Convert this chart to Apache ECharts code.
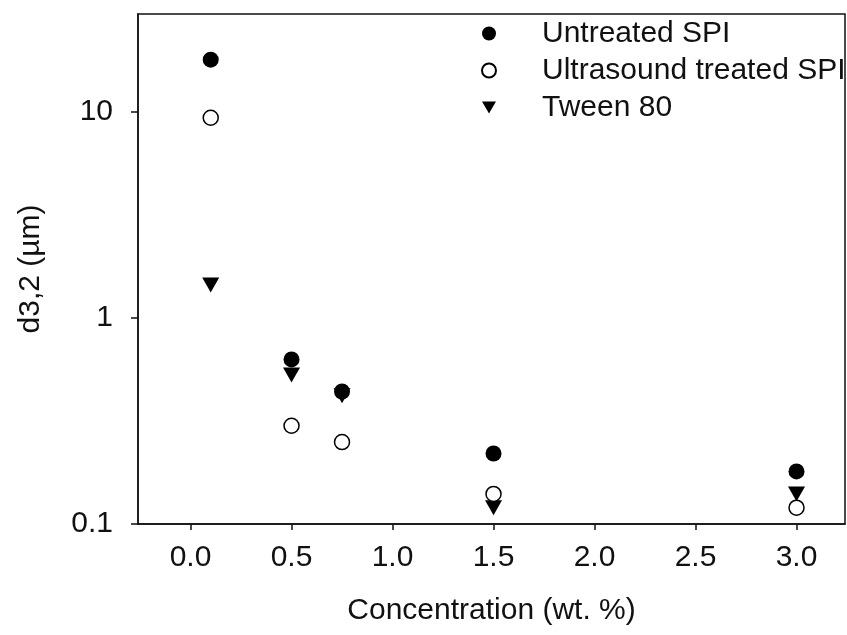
<!DOCTYPE html>
<html>
<head>
<meta charset="utf-8">
<script src="https://cdn.jsdelivr.net/npm/echarts@6/dist/echarts.min.js"></script>
<style>
	html, body { margin: 0; padding: 0; background: #fff; }
	#chart { width: 847px; height: 635px; }
</style>
</head>
<body>
<div id="chart"></div>
<script>
// concentration (wt. %)
const concentrations = [0.1, 0.5, 0.75, 1.5, 3.0];
// d3,2 (um)
const untreatedSPI = [18.0, 0.63, 0.44, 0.22, 0.18];
const ultrasoundSPI = [9.4, 0.30, 0.25, 0.14, 0.12];
const tween80 = [1.45, 0.53, 0.42, 0.12, 0.14];

const xTicks = [0, 0.5, 1.0, 1.5, 2.0, 2.5, 3.0];
const yTicks = [0.1, 1, 10];

const FONT = 'Liberation Sans, Arial, sans-serif';
const FONT_SIZE = 30;

function pairs(ys) {
	return concentrations.map((x, i) => [x, ys[i]]);
}

let sizeChart = null;

function drawSizeChart() {
	const chartDom = document.getElementById('chart');
	if (!sizeChart) {
		sizeChart = echarts.init(chartDom, null, { renderer: 'canvas' });
	}

	const option = {
		animation: false,
		backgroundColor: '#fff',
		grid: {
			left: 138,
			right: 2,
			top: 14,
			bottom: 111,
			show: true,
			borderColor: '#111',
			borderWidth: 1.5
		},
		legend: {
			orient: 'vertical',
			left: 476,
			top: 13,
			itemWidth: 14,
			itemHeight: 14,
			itemGap: 6,
			textStyle: {
				fontFamily: FONT,
				fontSize: FONT_SIZE,
				lineHeight: 31,
				color: '#111',
				padding: [0, 0, 0, 41]
			},
			data: ['Untreated SPI', 'Ultrasound treated SPI', 'Tween 80']
		},
		xAxis: {
			type: 'value',
			min: -0.26,
			max: 3.24,
			name: 'Concentration (wt. %)',
			nameLocation: 'middle',
			nameGap: 72,
			nameTextStyle: { fontFamily: FONT, fontSize: FONT_SIZE, color: '#111' },
			axisLine: { show: true, onZero: false, lineStyle: { color: '#111', width: 1.5 } },
			axisTick: { show: true, length: 6, customValues: xTicks, lineStyle: { color: '#111', width: 1.5 } },
			axisLabel: {
				customValues: xTicks,
				margin: 19,
				fontFamily: FONT,
				fontSize: FONT_SIZE,
				color: '#111',
				formatter: v => v.toFixed(1)
			},
			splitLine: { show: false }
		},
		yAxis: {
			type: 'log',
			logBase: 10,
			min: 0.1,
			max: 30,
			name: 'd3,2 (µm)',
			nameLocation: 'middle',
			nameGap: 92,
			nameTextStyle: { fontFamily: FONT, fontSize: FONT_SIZE, color: '#111' },
			axisLine: { show: true, onZero: false, lineStyle: { color: '#111', width: 1.5 } },
			axisTick: { show: true, length: 7, customValues: yTicks, lineStyle: { color: '#111', width: 1.5 } },
			axisLabel: {
				customValues: yTicks,
				margin: 25,
				fontFamily: FONT,
				fontSize: FONT_SIZE,
				color: '#111',
				formatter: v => String(v)
			},
			minorTick: { show: false },
			splitLine: { show: false }
		},
		series: [
			{
				name: 'Untreated SPI',
				type: 'scatter',
				data: pairs(untreatedSPI),
				symbol: 'circle',
				symbolSize: 16,
				itemStyle: { color: '#000', opacity: 1 },
				z: 3
			},
			{
				name: 'Ultrasound treated SPI',
				type: 'scatter',
				data: pairs(ultrasoundSPI),
				symbol: 'circle',
				symbolSize: 15,
				itemStyle: { color: '#fff', borderColor: '#000', borderWidth: 1.5, opacity: 1 },
				z: 4
			},
			{
				name: 'Tween 80',
				type: 'scatter',
				data: pairs(tween80),
				// downward triangle
				symbol: 'path://M0,0L20,0L10,17Z',
				symbolSize: [17, 15],
				itemStyle: { color: '#000', opacity: 1 },
				z: 2
			}
		]
	};

	sizeChart.setOption(option);
	sizeChart.resize();
}

drawSizeChart();

window.addEventListener('resize', () => {
	if (sizeChart) sizeChart.resize();
});
</script>
</body>
</html>
